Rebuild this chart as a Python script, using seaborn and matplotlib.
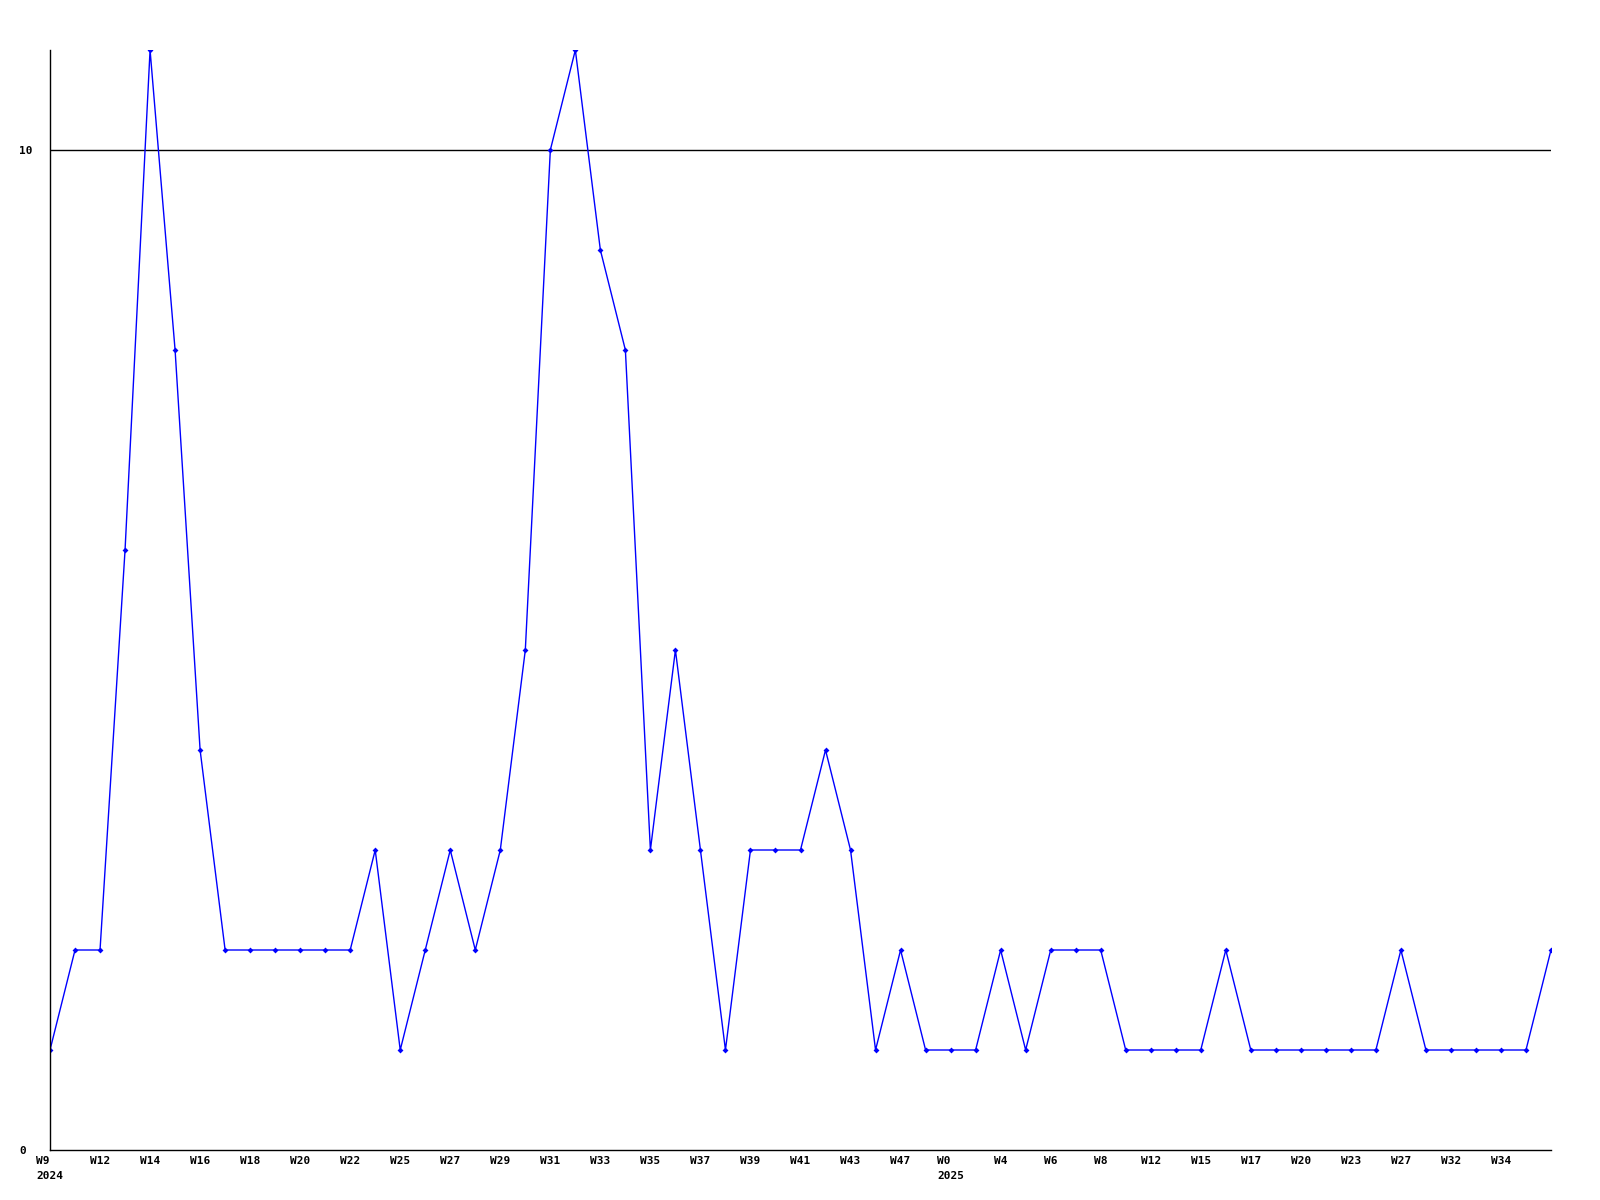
import matplotlib
matplotlib.use("Agg")
import matplotlib.pyplot as plt
import seaborn as sns
import pandas as pd

# weekly counts, W9 2024 .. W35 2025
counts = [1, 2, 2, 6, 11, 8, 4, 2, 2, 2,
          2, 2, 2, 3, 1, 2, 3, 2, 3, 5,
          10, 11, 9, 8, 3, 5, 3, 1, 3, 3,
          3, 4, 3, 1, 2, 1, 1, 1, 2, 1,
          2, 2, 2, 1, 1, 1, 1, 2, 1, 1,
          1, 1, 1, 1, 2, 1, 1, 1, 1, 1, 2]
tick_idx = list(range(0, 60, 2))
tick_labels = ["W9\n2024", "W12", "W14", "W16", "W18", "W20", "W22", "W25", "W27", "W29",
               "W31", "W33", "W35", "W37", "W39", "W41", "W43", "W47", "W0\n2025", "W4",
               "W6", "W8", "W12", "W15", "W17", "W20", "W23", "W27", "W32", "W34"]
y_ticks = [0, 10]

df = pd.DataFrame({"week": range(len(counts)), "count": counts})

sns.set_style("white")
plt.rcParams["font.family"] = ["DejaVu Sans Mono"]
plt.rcParams["text.color"] = "black"
plt.rcParams["xtick.color"] = "black"
plt.rcParams["ytick.color"] = "black"

fig = plt.figure(figsize=(16, 12), dpi=100)
ax = fig.add_axes([50 / 1600, 50 / 1200, 1501 / 1600, 1100 / 1200])

sns.lineplot(data=df, x="week", y="count", ax=ax, color="#0000ff", linewidth=1,
             marker="D", markersize=3, markeredgewidth=0)
ax.axhline(10, color="black", linewidth=1, zorder=0)

ax.set_xlim(0, len(counts) - 1)
ax.set_ylim(0, 11)
ax.set_xticks(tick_idx)
ax.set_xticklabels(tick_labels, ha="center", multialignment="left",
                   fontsize=8, fontweight="bold", linespacing=1.7)
ax.set_yticks(y_ticks)
ax.set_yticklabels([str(v) for v in y_ticks], fontsize=8, fontweight="bold", ha="left")
ax.tick_params(axis="both", length=0, labelcolor="black")
ax.tick_params(axis="x", pad=4)
ax.tick_params(axis="y", pad=22)
ax.set_xlabel("")
ax.set_ylabel("")

for side in ["top", "right"]:
    ax.spines[side].set_visible(False)
for side in ["left", "bottom"]:
    ax.spines[side].set_color("black")
    ax.spines[side].set_linewidth(1)

fig.savefig("out.png", dpi=100)
